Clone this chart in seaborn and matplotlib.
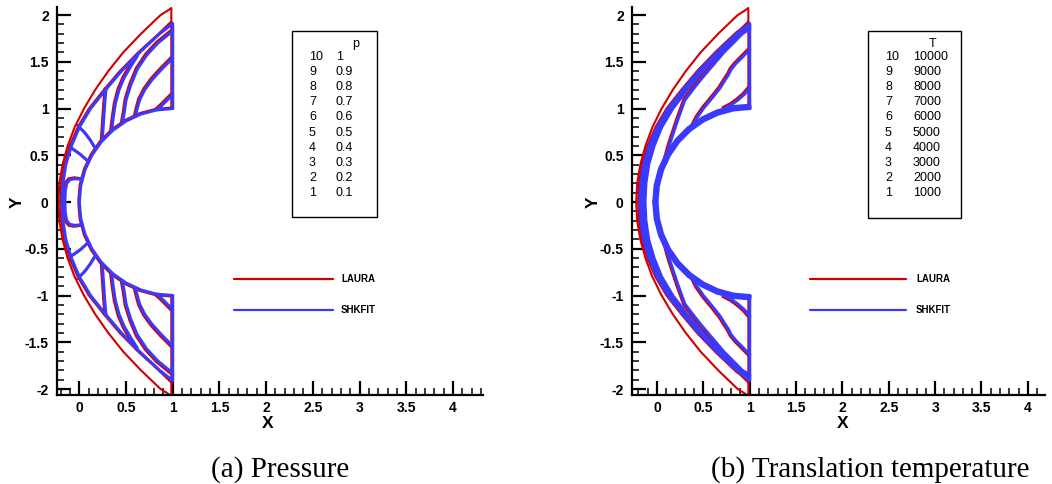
import matplotlib
matplotlib.use("Agg")
import matplotlib.pyplot as plt
from matplotlib import transforms
from matplotlib.patches import Rectangle
from matplotlib.lines import Line2D
from matplotlib.ticker import MultipleLocator, FuncFormatter
import seaborn as sns

# --- style ---
sns.set_theme(style="white")
plt.rcParams["font.family"] = ["Liberation Sans", "DejaVu Sans"]
plt.rcParams["font.weight"] = "bold"
plt.rcParams["text.color"] = "black"
plt.rcParams["axes.unicode_minus"] = False

RED = "#d00000"
BLUE = "#3a3aff"
W, H = 1052, 484

# --- geometry (upper half, y >= 0; picture is symmetric about y = 0) ---
body_x = [0.0, 0.015, 0.06, 0.134, 0.234, 0.357, 0.5, 0.658, 0.826, 1.0]
body_y = [0.0, 0.174, 0.342, 0.5, 0.643, 0.766, 0.866, 0.94, 0.985, 1.0]

# LAURA grid outer boundary + outlet
outer_x = [-0.225, -0.214, -0.18, -0.125, -0.05, 0.05, 0.17, 0.31, 0.47, 0.66, 0.87, 0.95, 0.985, 0.985]
outer_y = [0.0, 0.2, 0.4, 0.6, 0.8, 1.0, 1.2, 1.4, 1.6, 1.8, 2.0, 2.05, 2.075, 1.0]

# SHKFIT fitted shock + outlet
shock_x = [-0.185, -0.175, -0.145, -0.085, 0.0, 0.12, 0.28, 0.45, 0.645, 0.86, 1.0, 1.0]
shock_y = [0.0, 0.2, 0.4, 0.6, 0.8, 1.0, 1.2, 1.4, 1.6, 1.8, 1.91, 1.0]

# LAURA captured shock contour
laura_shock_x = [-0.203, -0.193, -0.163, -0.103, -0.017, 0.103, 0.263, 0.433, 0.63, 0.85, 0.985]
laura_shock_y = [0.0, 0.2, 0.4, 0.6, 0.8, 1.0, 1.2, 1.4, 1.6, 1.8, 1.93]

# pressure contours (levels 0.1 ... 1)
p_levels = [1, 0.9, 0.8, 0.7, 0.6, 0.5, 0.4, 0.3, 0.2, 0.1]
p_lines_x = [
    [0.83, 0.88, 0.94, 1.0],
    [0.6, 0.62, 0.645, 0.7, 0.78, 0.88, 1.0],
    [0.46, 0.48, 0.5, 0.55, 0.62, 0.72, 0.84, 1.0],
    [0.345, 0.36, 0.385, 0.425, 0.48, 0.55, 0.62],
    [0.245, 0.255, 0.265, 0.275, 0.285],
    [0.175, 0.12, 0.06, -0.01],
    [0.1, 0.01, -0.09],
    [0.03, -0.04, -0.1, -0.135, -0.15, -0.155],
]
p_lines_y = [
    [0.985, 1.03, 1.09, 1.15],
    [0.917, 1.0, 1.09, 1.2, 1.31, 1.42, 1.54],
    [0.84, 0.95, 1.09, 1.25, 1.42, 1.57, 1.70, 1.83],
    [0.755, 0.88, 1.05, 1.2, 1.33, 1.45, 1.56],
    [0.66, 0.8, 0.95, 1.09, 1.2],
    [0.57, 0.66, 0.74, 0.81],
    [0.43, 0.51, 0.58],
    [0.24, 0.25, 0.24, 0.2, 0.12, 0.0],
]

# translation temperature contours (levels 1000 ... 10000)
t_levels = [10000, 9000, 8000, 7000, 6000, 5000, 4000, 3000, 2000, 1000]
t_lines_x = [
    [-0.167, -0.157, -0.127, -0.068, 0.016, 0.135, 0.293, 0.462, 0.655, 0.868, 1.0],
    [-0.15, -0.14, -0.11, -0.05, 0.033, 0.152, 0.308, 0.476, 0.667, 0.878, 1.0],
    [-0.13, -0.12, -0.09, -0.032, 0.05, 0.17, 0.325, 0.49, 0.68, 0.89, 1.0],
    [0.08, 0.13, 0.22, 0.3, 0.4, 0.48, 0.6, 0.72, 0.84, 0.92, 1.0],
    [0.38, 0.43, 0.5, 0.6, 0.68, 0.73, 0.77, 0.8, 0.85, 0.92, 1.0],
    [0.72, 0.8, 0.87, 0.94, 1.0],
]
t_lines_y = [
    [0.0, 0.2, 0.4, 0.6, 0.8, 1.0, 1.2, 1.4, 1.6, 1.8, 1.89],
    [0.0, 0.2, 0.4, 0.6, 0.8, 1.0, 1.2, 1.4, 1.6, 1.8, 1.87],
    [0.0, 0.2, 0.4, 0.6, 0.8, 1.0, 1.2, 1.4, 1.6, 1.8, 1.85],
    [0.42, 0.6, 0.87, 1.09, 1.22, 1.32, 1.46, 1.6, 1.72, 1.8, 1.85],
    [0.8, 0.9, 1.0, 1.12, 1.22, 1.3, 1.36, 1.42, 1.48, 1.55, 1.63],
    [1.0, 1.04, 1.09, 1.15, 1.22],
]
# wall-layer radii of the thermal layer bunched on the body
t_wall_radii = [1.012, 1.024, 1.036]

fig = plt.figure(figsize=(W / 100, H / 100), dpi=100)


def fpos(px, py):
    return px / W, 1 - py / H


def mirror(ax, xs, ys, color, lw, shift=0.0):
    for s in (1, -1):
        tr = ax.transData
        if shift:
            tr = transforms.offset_copy(ax.transData, fig=fig, x=-shift, y=s * shift, units="dots")
        sns.lineplot(x=xs, y=[s * v for v in ys], sort=False, estimator=None,
                     color=color, lw=lw, ax=ax, transform=tr, legend=False,
                     solid_joinstyle="round", solid_capstyle="round")


def wall_layer(r):
    return [1 + r * (x - 1) for x in body_x], [r * y for y in body_y]


def setup_axes(ax, xlim):
    ax.set_xlim(*xlim)
    ax.set_ylim(-2.064, 2.086)
    ax.set_xlabel("")
    ax.set_ylabel("")
    sns.despine(ax=ax)
    for sp in ("left", "bottom"):
        ax.spines[sp].set_linewidth(1.6)
        ax.spines[sp].set_color("black")
    ax.xaxis.set_major_locator(MultipleLocator(0.5))
    ax.yaxis.set_major_locator(MultipleLocator(0.5))
    ax.xaxis.set_minor_locator(MultipleLocator(0.1))
    ax.yaxis.set_minor_locator(MultipleLocator(0.1))
    fmt = FuncFormatter(lambda v, p: "0" if abs(v) < 1e-9 else f"{v:g}")
    ax.xaxis.set_major_formatter(fmt)
    ax.yaxis.set_major_formatter(fmt)
    ax.tick_params(which="both", direction="in", bottom=True, left=True,
                   top=False, right=False, colors="black")
    ax.tick_params(which="major", length=10, width=1.6, labelsize=10)
    ax.tick_params(which="minor", length=5, width=1.1)
    ax.tick_params(axis="y", pad=6)
    ax.tick_params(axis="x", pad=4)
    ax.grid(False)
    ax.set_facecolor("white")


def level_box(x0, x1, y0, y1, head, levels, col2):
    fig.patches.append(Rectangle(fpos(x0, y1), (x1 - x0) / W, (y1 - y0) / H,
                                 transform=fig.transFigure, fill=False,
                                 ec="black", lw=1.0))
    fig.text(*fpos(col2 + 16, 44), head, fontsize=9, fontweight="normal",
             ha="left", va="center")
    for i, lev in enumerate(levels):
        yy = 57 + i * 15.1
        fig.text(*fpos(x0 + 17, yy), str(10 - i), fontsize=9, fontweight="normal",
                 ha="left", va="center")
        fig.text(*fpos(col2, yy), f"{lev:g}", fontsize=9, fontweight="normal",
                 ha="left", va="center")


def line_legend(x0, x1, tx):
    for yy, c, name in ((279, RED, "LAURA"), (310, BLUE, "SHKFIT")):
        fig.add_artist(Line2D([x0 / W, x1 / W], [1 - yy / H] * 2, color=c, lw=1.6,
                              transform=fig.transFigure))
        fig.text(*fpos(tx, yy), name, fontsize=7, fontweight="bold",
                 ha="left", va="center")


# ================= (a) Pressure =================
axL = fig.add_axes([57 / W, 89 / H, 426 / W, 388 / H])
mirror(axL, outer_x, outer_y, RED, 1.5)
mirror(axL, laura_shock_x, laura_shock_y, RED, 1.6)
for xs, ys in zip(p_lines_x, p_lines_y):
    mirror(axL, xs, ys, RED, 1.6, shift=1.3)
mirror(axL, body_x, body_y, RED, 1.6, shift=1.0)
mirror(axL, shock_x, shock_y, BLUE, 2.2)
mirror(axL, body_x, body_y, BLUE, 2.2)
for xs, ys in zip(p_lines_x, p_lines_y):
    mirror(axL, xs, ys, BLUE, 2.2)
setup_axes(axL, (-0.239, 4.322))

level_box(292, 377, 31, 217, "p", p_levels, 336)
line_legend(234, 333, 341)
fig.text(*fpos(268, 424), "X", fontsize=12.5, ha="center", va="center")
fig.text(*fpos(17, 202), "Y", fontsize=12.5, ha="center", va="center", rotation=90)
fig.text(*fpos(280, 470), "(a) Pressure", fontsize=21, fontweight="normal",
         family="Liberation Serif", ha="center", va="center")

# ================= (b) Translation temperature =================
axR = fig.add_axes([632 / W, 89 / H, 413 / W, 388 / H])
mirror(axR, outer_x, outer_y, RED, 1.5)
mirror(axR, laura_shock_x, laura_shock_y, RED, 1.6)
for xs, ys in zip(t_lines_x, t_lines_y):
    mirror(axR, xs, ys, RED, 1.6, shift=1.3)
mirror(axR, shock_x, shock_y, BLUE, 2.2)
mirror(axR, body_x, body_y, BLUE, 2.2)
for r in t_wall_radii:
    wx, wy = wall_layer(r)
    mirror(axR, wx + [1.0], wy + [1.0], BLUE, 2.2)
for xs, ys in zip(t_lines_x, t_lines_y):
    mirror(axR, xs, ys, BLUE, 2.2)
setup_axes(axR, (-0.27, 4.185))

level_box(868, 961, 31, 218, "T", t_levels, 913)
line_legend(810, 906, 916)
fig.text(*fpos(843, 424), "X", fontsize=12.5, ha="center", va="center")
fig.text(*fpos(593, 202), "Y", fontsize=12.5, ha="center", va="center", rotation=90)
fig.text(*fpos(870, 470), "(b) Translation temperature", fontsize=21,
         fontweight="normal", family="Liberation Serif", ha="center", va="center")

fig.savefig("out.png", dpi=100)
